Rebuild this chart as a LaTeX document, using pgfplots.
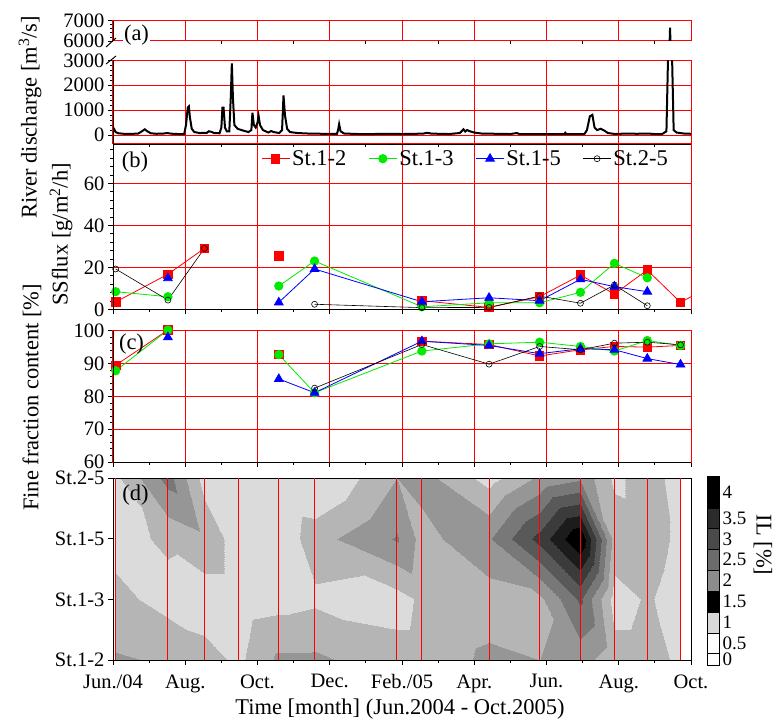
\documentclass[border=0pt]{standalone}
\usepackage{fontspec}
\setmainfont{Liberation Serif}
\usepackage{pgfplots}
\usepackage{pgfplotstable}
\pgfplotsset{compat=1.18}
\definecolor{sgreen}{RGB}{0,235,0}
\newcommand{\tfont}{\fontsize{20.5}{22}\selectfont}
\newcommand{\cfont}{\fontsize{19}{20}\selectfont}
\newcommand{\lfont}{\fontsize{22.5}{25}\selectfont}

\pgfplotstableread{
x q
0.00 300
0.03 250
0.07 120
0.15 70
0.30 50
0.50 45
0.70 60
0.80 150
0.88 230
0.95 150
1.05 70
1.20 50
1.40 60
1.50 80
1.60 55
1.80 40
1.97 40
2.02 400
2.07 1100
2.10 1150
2.13 700
2.18 250
2.25 120
2.40 80
2.60 90
2.65 150
2.72 130
2.80 80
2.95 70
3.00 300
3.03 1100
3.06 1100
3.10 300
3.15 150
3.22 150
3.26 1500
3.29 2880
3.32 1500
3.36 400
3.45 250
3.60 180
3.75 120
3.83 200
3.86 900
3.90 400
3.95 300
4.00 500
4.03 770
4.07 400
4.15 200
4.30 100
4.38 160
4.45 120
4.60 80
4.68 200
4.72 1590
4.76 800
4.82 250
4.90 120
5.10 80
5.40 60
5.80 50
6.20 50
6.23 200
6.26 440
6.30 150
6.40 60
6.80 40
7.20 40
7.60 50
8.00 40
8.40 50
8.60 60
8.70 90
8.80 60
9.00 50
9.30 40
9.60 80
9.65 150
9.70 230
9.75 140
9.80 200
9.88 150
10.00 100
10.20 60
10.60 50
11.00 40
11.18 80
11.25 40
11.80 35
12.20 40
12.50 40
12.52 90
12.55 40
13.05 40
13.12 200
13.20 750
13.27 810
13.33 300
13.40 200
13.50 250
13.60 180
13.70 80
13.90 40
14.20 60
14.50 50
14.80 60
15.00 40
15.20 40
15.32 150
15.37 3500
15.42 6655
15.47 3500
15.52 200
15.60 100
15.80 60
16.00 50
}\Qdata

\pgfplotstableread{
x y z
0.075 0 1.55
1.52 0 1.45
2.53 0 1.2
3.48 0 0.9
4.59 0 1.6
5.58 0 1.6
7.86 0 1.2
8.55 0 1.2
10.41 0 1.6
11.81 0 1.5
12.94 0 1.7
13.88 0 1.2
14.79 0 1.2
15.71 0 0.9
0.075 1 1.15
1.52 1 0.8
2.53 1 0.7
3.48 1 0.7
4.59 1 0.8
5.58 1 0.9
7.86 1 0.8
8.55 1 1.1
10.41 1 1.25
11.81 1 1.4
12.94 1 2.6
13.88 1 0.8
14.79 1 1.05
15.71 1 0.8
0.075 2 0.8
1.52 2 1.1
2.53 2 1.4
3.48 2 0.7
4.59 2 0.6
5.58 2 1.3
7.86 2 2.05
8.55 2 1.3
10.41 2 1.95
11.81 2 3.2
12.94 2 4.6
13.88 2 1.3
14.79 2 1.2
15.71 2 0.9
0.075 3 0.9
1.52 3 2.2
2.53 3 0.8
3.48 3 0.6
4.59 3 0.5
5.58 3 0.4
7.86 3 1.5
8.55 3 1.7
10.41 3 0.8
11.81 3 1.6
12.94 3 1.9
13.88 3 0.9
14.79 3 1.2
15.71 3 0.8
}\ILdata

\pgfplotsset{
 panel/.style={
  scale only axis, width=578pt, xmin=0, xmax=16, anchor=north west,
  axis line style={red, line width=1pt},
  grid=major, grid style={red, line width=1pt}, major grid style={red, line width=1pt},
  tick style={black, line width=0.8pt}, tick align=outside,
  major tick length=5pt, minor tick length=3pt,
  xtick={0,2,...,16}, minor xtick={1,3,...,15}, xticklabels={},
  xtick pos=bottom, ytick pos=left,
  tick label style={font=\tfont},
  /pgf/number format/assume math mode=true,
  unbounded coords=jump,
 },
 bl/.style={extra description/.append code={\draw[black,line width=0.9pt] (rel axis cs:0,0)--(rel axis cs:0,1);}},
 bb/.style={extra description/.append code={\draw[black,line width=0.9pt] (rel axis cs:0,0)--(rel axis cs:1,0);}},
 bt/.style={extra description/.append code={\draw[black,line width=0.9pt] (rel axis cs:0,1)--(rel axis cs:1,1);}},
 s12/.style={red, line width=0.8pt, mark=square*, mark size=4.2pt, mark options={solid, fill=red, draw=red}},
 s13/.style={sgreen, line width=0.8pt, mark=*, mark size=4.2pt, mark options={solid, fill=sgreen, draw=sgreen}},
 s15/.style={blue, line width=0.8pt, mark=triangle*, mark size=5pt, mark options={solid, fill=blue, draw=blue}},
 s25/.style={black, line width=0.6pt, mark=o, mark size=3pt, mark options={solid, fill=none, draw=black}},
}

\begin{document}
\begin{tikzpicture}
\useasboundingbox (0,0) rectangle (782pt,-720pt);

% (a) upper part
\begin{axis}[panel, bl, at={(113pt,-20.7pt)}, height=20.3pt,
  ymin=6000, ymax=7000, ytick={6000,7000}, yticklabels={6000,7000},
  minor ytick={6200,6400,6600,6800}, xmajorticks=false, xminorticks=false]
\addplot[black, line width=2pt, no marks] table[x=x, y=q] {\Qdata};
\end{axis}

% (a) lower part
\begin{axis}[panel, bl, bb, at={(113pt,-60.3pt)}, height=83.7pt,
  ymin=-360, ymax=3000, ytick={0,1000,2000,3000}, yticklabels={0,1000,2000,3000},
  minor ytick={200,400,600,800,1200,1400,1600,1800,2200,2400,2600,2800}]
\addplot[black, line width=2pt, no marks] table[x=x, y=q] {\Qdata};
\end{axis}

% (b)
\begin{axis}[panel, bl, bb, bt, at={(113pt,-144.3pt)}, height=165pt,
  ymin=0, ymax=78.6, ytick={0,20,40,60}, yticklabels={0,20,40,60},
  minor ytick={4,8,12,16,24,28,32,36,44,48,52,56,64,68,72,76}, clip=false,
  legend columns=4,
  legend style={draw=none, fill=none, font=\lfont, at={(1,1)}, anchor=north east, xshift=-18pt, yshift=-2pt,
    /tikz/every even column/.append style={column sep=20pt}},
  legend image code/.code={\draw[mark repeat=2,mark phase=2,#1] plot coordinates {(0pt,0pt) (14pt,0pt) (28pt,0pt)};}]
\addplot[s12] coordinates {(0.075,3.5) (1.52,16.7) (2.53,29) (3.48,nan) (4.59,25.4) (5.58,nan) (8.55,4.1) (10.41,0.9) (11.81,6.0) (12.94,16.3) (13.88,7.3) (14.79,18.7) (15.71,3.3)};
\addplot[s13] coordinates {(0.075,8.4) (1.52,6.0) (2.53,nan) (4.59,11.1) (5.58,23) (8.55,1.2) (10.41,3.1) (11.81,3.1) (12.94,8.1) (13.88,21.9) (14.79,15.0)};
\addplot[s15] coordinates {(1.52,14.8) (2.53,nan) (4.59,3.3) (5.58,19.2) (8.55,3.6) (10.41,5.5) (11.81,4.1) (12.94,14.3) (13.88,10.8) (14.79,8.4)};
\addplot[s25] coordinates {(0.075,19.2) (1.52,4.4) (2.53,29) (3.48,nan) (5.58,2.4) (8.55,0.8) (10.41,0.9) (11.81,6.3) (12.94,2.9) (13.88,11.6) (14.79,1.7)};
\addplot[red, line width=0.8pt, no marks, forget plot] coordinates {(15.71,3.3) (16,6.0)};
\legend{St.1-2, St.1-3, St.1-5, St.2-5}
\end{axis}

% (c)
\begin{axis}[panel, bl, bb, at={(113pt,-330.7pt)}, height=131.3pt,
  ymin=60, ymax=100, ytick={60,70,80,90,100}, yticklabels={60,70,80,90,100},
  minor y tick num=4, clip=false]
\addplot[s12] coordinates {(0.075,89.5) (1.52,100.2) (3.48,nan) (4.59,92.7) (5.58,nan) (8.55,96.8) (10.41,95.8) (11.81,92.3) (12.94,94.2) (13.88,95.2) (14.79,95.0) (15.71,95.5)};
\addplot[s13] coordinates {(0.075,87.8) (1.52,100.2) (3.48,nan) (4.59,92.7) (5.58,81.1) (8.55,93.8) (10.41,96.0) (11.81,96.5) (12.94,95.2) (13.88,93.8) (14.79,97.0) (15.71,95.5)};
\addplot[s15] coordinates {(1.52,98.0) (3.48,nan) (4.59,85.3) (5.58,81.1) (8.55,96.8) (10.41,95.5) (11.81,93.0) (12.94,94.5) (13.88,94.2) (14.79,91.5) (15.71,89.7)};
\addplot[s25] coordinates {(5.58,82.5) (8.55,95.8) (10.41,89.8) (11.81,95.2) (12.94,94.2) (13.88,96.2) (14.79,96.5) (15.71,95.7)};
\end{axis}

% (d)
\begin{axis}[scale only axis, width=578pt, height=181.7pt, at={(113pt,-478.3pt)}, anchor=north west,
  view={0}{90}, xmin=0, xmax=16, ymin=0, ymax=3,
  axis line style={black, line width=0.9pt},
  tick style={black, line width=0.8pt}, tick align=outside,
  major tick length=5pt, minor tick length=3pt,
  xtick={0,2,...,16}, minor xtick={1,3,...,15},
  xticklabels={Jun./04, Aug., Oct., Dec., Feb./05, Apr., Jun., Aug., Oct.},
  xticklabel style={yshift=-6pt},
  ytick={0,1,2,3}, yticklabels={St.1-2, St.1-3, St.1-5, St.2-5}, ztick=\empty,
  xtick pos=left, ytick pos=left,
  tick label style={font=\tfont},
  colormap={IL}{gray(0pt)=(0.86) gray(10pt)=(0.71) gray(15pt)=(0.59) gray(20pt)=(0.47) gray(25pt)=(0.35) gray(30pt)=(0.23) gray(35pt)=(0.11) gray(40pt)=(0) gray(45pt)=(0)},
  colormap access=piecewise constant, point meta min=0, point meta max=4.5]
\addplot3[surf, shader=interp, mesh/cols=14] table[x=x, y=y, z=z] {\ILdata};
\end{axis}

% (d) sampling dates overlay
\begin{axis}[scale only axis, width=578pt, height=181.7pt, at={(113pt,-478.3pt)}, anchor=north west,
  xmin=0, xmax=16, ymin=0, ymax=3, hide axis]
\addplot[red, line width=1pt, ycomb, no marks] coordinates {(0.075,3) (1.52,3) (2.53,3) (3.48,3) (4.59,3) (5.58,3) (7.86,3) (8.55,3) (10.41,3) (11.81,3) (12.94,3) (13.88,3) (14.79,3) (15.71,3)};
\end{axis}

% colour bar
\begin{axis}[scale only axis, width=12pt, height=189pt, at={(707pt,-476pt)}, anchor=north west,
  xmin=0, xmax=1, ymin=0, ymax=189, xtick=\empty,
  ytick={5.9,21.7,42.5,63.7,84.5,105.4,126.2,147,173.2},
  yticklabels={0,0.5,1,1.5,2,2.5,3,3.5,4}, yticklabel pos=right,
  major tick length=0pt, tick label style={font=\cfont},
  axis line style={black, line width=0.8pt}]
\addplot[draw=black, fill=white] coordinates {(0,0) (1,0) (1,11.7) (0,11.7)} -- cycle;
\addplot[draw=black, fill=white] coordinates {(0,11.7) (1,11.7) (1,31.7) (0,31.7)} -- cycle;
\addplot[draw=black, fill={rgb,1:red,0.85;green,0.85;blue,0.85}] coordinates {(0,31.7) (1,31.7) (1,53.3) (0,53.3)} -- cycle;
\addplot[draw=black, fill=black] coordinates {(0,53.3) (1,53.3) (1,74) (0,74)} -- cycle;
\addplot[draw=black, fill={rgb,1:red,0.55;green,0.55;blue,0.55}] coordinates {(0,74) (1,74) (1,95) (0,95)} -- cycle;
\addplot[draw=black, fill={rgb,1:red,0.42;green,0.42;blue,0.42}] coordinates {(0,95) (1,95) (1,115.7) (0,115.7)} -- cycle;
\addplot[draw=black, fill={rgb,1:red,0.29;green,0.29;blue,0.29}] coordinates {(0,115.7) (1,115.7) (1,136.7) (0,136.7)} -- cycle;
\addplot[draw=black, fill={rgb,1:red,0.17;green,0.17;blue,0.17}] coordinates {(0,136.7) (1,136.7) (1,157.3) (0,157.3)} -- cycle;
\addplot[draw=black, fill=black] coordinates {(0,157.3) (1,157.3) (1,189) (0,189)} -- cycle;
\end{axis}

% break marks
\draw[black, line width=1pt] (106pt,-47pt) -- (116pt,-38pt);
\draw[black, line width=1pt] (106pt,-64pt) -- (116pt,-56pt);

% panel labels
\node[font=\lfont, fill=white, inner sep=1pt] at (136.5pt,-35pt) {(a)};
\node[font=\lfont, inner sep=0pt] at (135pt,-161.7pt) {(b)};
\node[font=\lfont, inner sep=0pt] at (131.5pt,-344pt) {(c)};
\node[font=\lfont, inner sep=0pt] at (135.5pt,-495pt) {(d)};

% axis titles
\node[font=\lfont, rotate=90] at (30pt,-117.5pt) {River discharge [m\textsuperscript{3}/s]};
\node[font=\lfont, rotate=90] at (61pt,-234.5pt) {SSflux [g/m\textsuperscript{2}/h]};
\node[font=\lfont, rotate=90] at (32pt,-397.5pt) {Fine fraction content [\%]};
\node[font=\lfont] at (400pt,-709pt) {Time [month] (Jun.2004 - Oct.2005)};
\node[font=\lfont, rotate=-90] at (763pt,-545pt) {IL [\%]};
\end{tikzpicture}
\end{document}
